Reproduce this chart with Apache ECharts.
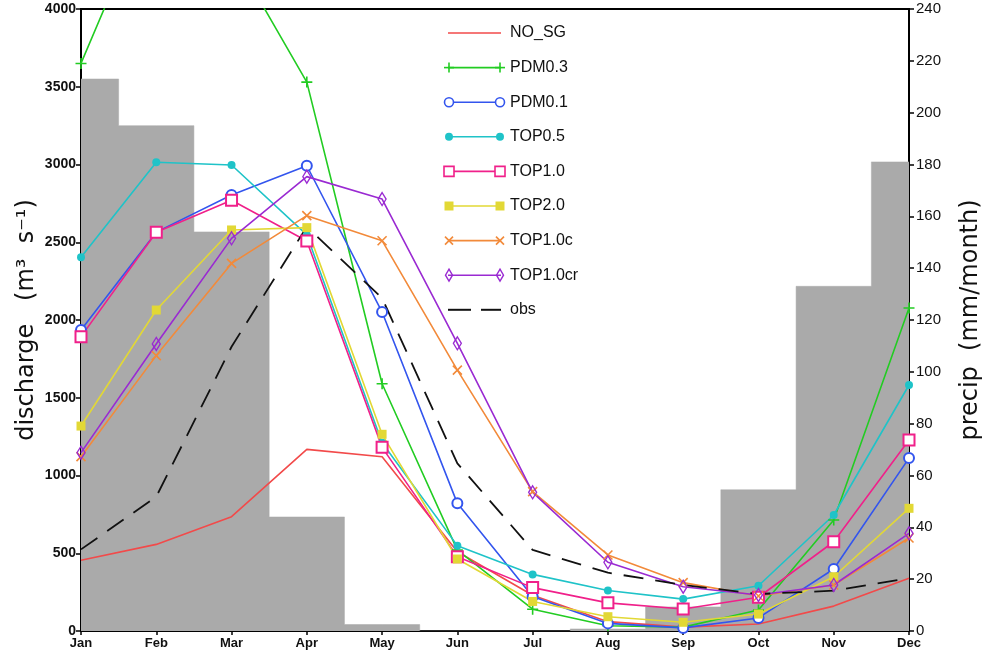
<!DOCTYPE html>
<html>
<head>
<meta charset="utf-8">
<script src="https://cdn.jsdelivr.net/npm/echarts@6/dist/echarts.min.js"></script>
<style>
html,body{margin:0;padding:0;background:#fff;}
#chart{width:984px;height:653px;}
</style>
</head>
<body>
<div id="chart"></div>
<script>
const months = ['Jan','Feb','Mar','Apr','May','Jun','Jul','Aug','Sep','Oct','Nov','Dec'];
const precip = [213, 195, 154, 44, 2.5, 0, 0, 0.8, 9.3, 54.5, 133, 181];
const NO_SG   = [455, 557, 735, 1168, 1121, 510, 230, 60, 25, 45, 160, 340];
const PDM03   = [3650, 4790, 4370, 3530, 1590, 520, 140, 34, 25, 135, 714, 2077];
const PDM01   = [1935, 2565, 2804, 2992, 2051, 821, 222, 49, 20, 84, 399, 1112];
const TOP05   = [2403, 3014, 2997, 2547, 1210, 549, 364, 260, 205, 291, 746, 1582];
const TOP10   = [1893, 2564, 2770, 2508, 1181, 478, 279, 181, 141, 217, 574, 1228];
const TOP20   = [1318, 2064, 2579, 2594, 1265, 463, 190, 92, 56, 109, 349, 789];
const TOP10c  = [1121, 1771, 2364, 2671, 2510, 1678, 896, 489, 311, 225, 296, 598];
const TOP10cr = [1147, 1846, 2525, 2922, 2778, 1850, 892, 442, 285, 232, 296, 628];
const obs     = [525, 864, 1828, 2600, 2141, 1078, 521, 375, 296, 238, 259, 339];
const leftTicks = [0, 500, 1000, 1500, 2000, 2500, 3000, 3500, 4000];
const rightTicks = [0, 20, 40, 60, 80, 100, 120, 140, 160, 180, 200, 220, 240];

const PLUS = 'path://M0,5L10,5M5,0L5,10';
const CROSS = 'path://M0,0L10,10M10,0L0,10';
const THINDIAMOND = 'path://M4,0L8,7L4,14L0,7Z';

const specs = [
  {name:'NO_SG', data:NO_SG, color:'#f24a4a', sym:'none'},
  {name:'PDM0.3', data:PDM03, color:'#22cc22', sym:'plus'},
  {name:'PDM0.1', data:PDM01, color:'#3355ee', sym:'ocircle'},
  {name:'TOP0.5', data:TOP05, color:'#1fc3c8', sym:'fcircle'},
  {name:'TOP1.0', data:TOP10, color:'#f0208a', sym:'orect'},
  {name:'TOP2.0', data:TOP20, color:'#e2d835', sym:'frect'},
  {name:'TOP1.0c', data:TOP10c, color:'#f28a3a', sym:'cross'},
  {name:'TOP1.0cr', data:TOP10cr, color:'#9a2ad2', sym:'diamond'},
  {name:'obs', data:obs, color:'#111111', sym:'dash'}
];

function seriesFor(s){
  const base = {
    name: s.name, type:'line', data:s.data, yAxisIndex:0, z:5,
    lineStyle:{color:s.color, width:1.6}, clip:true, animation:false,
    symbol:'none', showSymbol:true
  };
  switch(s.sym){
    case 'plus': Object.assign(base,{symbol:PLUS, symbolSize:11, itemStyle:{color:'none', borderColor:s.color, borderWidth:1.6}}); break;
    case 'ocircle': Object.assign(base,{symbol:'emptyCircle', symbolSize:10, itemStyle:{color:s.color, borderColor:s.color, borderWidth:1.6}}); break;
    case 'fcircle': Object.assign(base,{symbol:'circle', symbolSize:8, itemStyle:{color:s.color}}); break;
    case 'orect': Object.assign(base,{symbol:'emptyRect', symbolSize:11, itemStyle:{color:s.color, borderColor:s.color, borderWidth:1.6}}); break;
    case 'frect': Object.assign(base,{symbol:'rect', symbolSize:9, itemStyle:{color:s.color}}); break;
    case 'cross': Object.assign(base,{symbol:CROSS, symbolSize:9, itemStyle:{color:'none', borderColor:s.color, borderWidth:1.6}}); break;
    case 'diamond': Object.assign(base,{symbol:THINDIAMOND, symbolSize:[8,13], symbolKeepAspect:false, itemStyle:{color:'rgba(0,0,0,0)', borderColor:s.color, borderWidth:1.4}}); break;
    case 'dash': Object.assign(base,{lineStyle:{color:s.color, width:1.8, type:[20,12]}}); break;
  }
  return base;
}

// legend drawn with graphic elements
const legX0 = 448, legX1 = 501, legTextX = 510, legY0 = 33, legDy = 34.6;
function markerGraphic(sym, color, x, y){
  const lw = 1.6;
  switch(sym){
    case 'plus': return [
      {type:'line', shape:{x1:x-5,y1:y,x2:x+5,y2:y}, style:{stroke:color,lineWidth:lw}},
      {type:'line', shape:{x1:x,y1:y-5,x2:x,y2:y+5}, style:{stroke:color,lineWidth:lw}}];
    case 'ocircle': return [{type:'circle', shape:{cx:x,cy:y,r:4.5}, style:{fill:'#fff',stroke:color,lineWidth:lw}}];
    case 'fcircle': return [{type:'circle', shape:{cx:x,cy:y,r:4}, style:{fill:color}}];
    case 'orect': return [{type:'rect', shape:{x:x-5,y:y-5,width:10,height:10}, style:{fill:'#fff',stroke:color,lineWidth:lw}}];
    case 'frect': return [{type:'rect', shape:{x:x-4.5,y:y-4.5,width:9,height:9}, style:{fill:color}}];
    case 'cross': return [
      {type:'line', shape:{x1:x-4,y1:y-4,x2:x+4,y2:y+4}, style:{stroke:color,lineWidth:lw}},
      {type:'line', shape:{x1:x+4,y1:y-4,x2:x-4,y2:y+4}, style:{stroke:color,lineWidth:lw}}];
    case 'diamond': return [{type:'polygon', shape:{points:[[x,y-6],[x+3.5,y],[x,y+6],[x-3.5,y]]}, style:{fill:'none',stroke:color,lineWidth:1.4}}];
  }
  return [];
}
const graphics = [];
specs.forEach((s,i)=>{
  const y = legY0 + i*legDy;
  if (s.sym === 'dash') {
    graphics.push({type:'line', shape:{x1:legX0,y1:y,x2:legX0+23,y2:y}, style:{stroke:s.color,lineWidth:2}, z:20});
    graphics.push({type:'line', shape:{x1:legX0+33,y1:y,x2:legX1,y2:y}, style:{stroke:s.color,lineWidth:2}, z:20});
  } else {
    graphics.push({type:'line', shape:{x1:legX0,y1:y,x2:legX1,y2:y}, style:{stroke:s.color,lineWidth:1.6}, z:20});
    markerGraphic(s.sym, s.color, legX0+1, y).concat(markerGraphic(s.sym, s.color, legX1-1, y)).forEach(g=>{g.z=21; graphics.push(g);});
  }
  graphics.push({type:'text', x:legTextX, y:y, z:20, style:{text:s.name, fill:'#111', font:'16px "Liberation Sans", Arial, sans-serif', textVerticalAlign:'middle', verticalAlign:'middle', align:'left'}});
});

const chart = echarts.init(document.getElementById('chart'), null, {renderer:'canvas'});
const option = {
  animation:false,
  backgroundColor:'#fff',
  grid:{left:81, right:75, top:9, bottom:22, show:true, borderColor:'#000', borderWidth:2, backgroundColor:'transparent',
        containLabel:false, outerBoundsMode:'none'},
  xAxis:{
    type:'category', data:months, boundaryGap:false,
    axisLine:{lineStyle:{color:'#000', width:2}},
    axisTick:{show:true, length:4, lineStyle:{color:'#000', width:1.5}},
    axisLabel:{color:'#111', fontWeight:'bold', fontSize:13, fontFamily:'"Liberation Sans", Arial, sans-serif', margin:6},
    splitLine:{show:false}
  },
  yAxis:[
    {type:'value', min:leftTicks[0], max:leftTicks[leftTicks.length-1], interval:leftTicks[1]-leftTicks[0], position:'left',
     name:'discharge   (m\u00B3  s\u207B\u00B9)', nameLocation:'middle', nameGap:42, nameRotate:90, nameMoveOverlap:false,
     nameTextStyle:{fontSize:24, color:'#111', fontFamily:'"DejaVu Sans", sans-serif'},
     axisLine:{show:true, lineStyle:{color:'#000', width:2}},
     axisTick:{show:true, length:5, lineStyle:{color:'#000', width:1.5}},
     axisLabel:{color:'#111', fontWeight:'bold', fontSize:14, fontFamily:'"Liberation Sans", Arial, sans-serif', margin:5,
                formatter:(v)=>String(v)},
     splitLine:{show:false}},
    {type:'value', min:rightTicks[0], max:rightTicks[rightTicks.length-1], interval:rightTicks[1]-rightTicks[0], position:'right',
     name:'precip  (mm/month)', nameLocation:'middle', nameGap:50, nameRotate:90, nameMoveOverlap:false,
     nameTextStyle:{fontSize:24, color:'#111', fontFamily:'"DejaVu Sans", sans-serif'},
     axisLine:{show:true, lineStyle:{color:'#000', width:2}},
     axisTick:{show:true, length:5, lineStyle:{color:'#000', width:1.5}},
     axisLabel:{color:'#111', fontSize:15, fontFamily:'"Liberation Sans", Arial, sans-serif', margin:7,
                formatter:(v)=>String(v)},
     splitLine:{show:false}}
  ],
  series:[
    {name:'precip', type:'line', step:'middle', data:precip, yAxisIndex:1, clip:true, z:1,
     symbol:'none', lineStyle:{color:'#aaaaaa', width:0.5}, areaStyle:{color:'#aaaaaa', opacity:1}, silent:true}
  ].concat(specs.map(seriesFor)),
  graphic:graphics
};
chart.setOption(option);
</script>
</body>
</html>
